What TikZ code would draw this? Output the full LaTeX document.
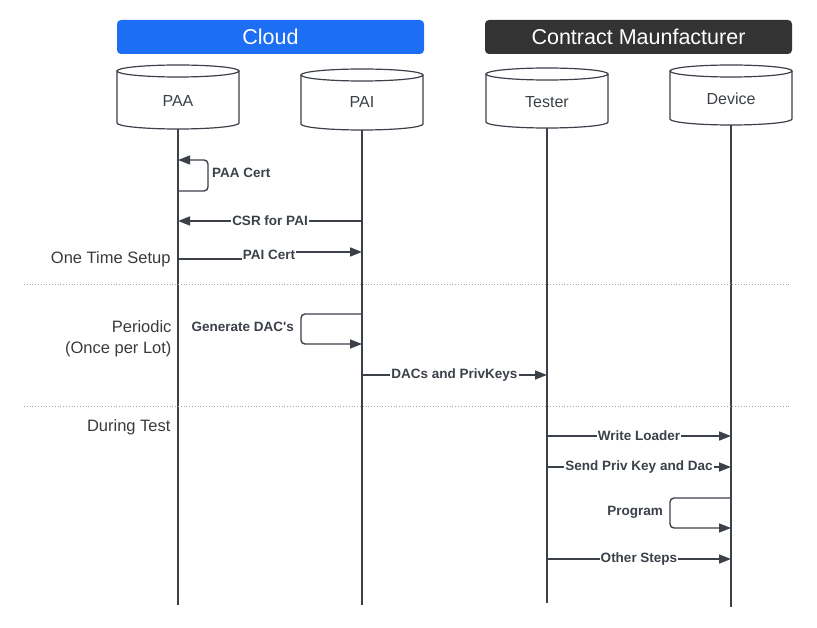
\documentclass[tikz,border=0pt]{standalone}
\usepackage{fontspec}
\setmainfont{Liberation Sans}
\usetikzlibrary{arrows.meta}
\definecolor{ln}{HTML}{3B4049}
\definecolor{cloudblue}{HTML}{1C6EF5}
\definecolor{cmdark}{HTML}{333333}
\definecolor{txt}{HTML}{3A3A3A}
\newcommand\mycyl[6]{% name, center x, top y, bottom y, label y, text
  \draw[cyl] (#2-61,#3+6) -- (#2-61,#4-6) arc[start angle=180,end angle=360,x radius=61pt,y radius=6pt] -- (#2+61,#3+6);
  \draw[cyl] (#2,#3+6) ellipse[x radius=61pt,y radius=6pt];
  \node[cyltext] (#1) at (#2,#5) {#6};
  \coordinate (#1T) at (#2,#4);
}
\begin{document}
\begin{tikzpicture}[x=1pt,y=-1pt,
  msg/.style={draw=ln, line width=1.7pt, -{Triangle[length=12pt,width=9pt]}},
  loopmsg/.style={msg, line width=1.4pt, rounded corners=4pt},
  life/.style={draw=ln, line width=1.5pt},
  lbl/.style={font=\bfseries\fontsize{13.5}{15}\selectfont, text=ln, fill=white, inner sep=1pt},
  cyl/.style={draw=ln, line width=1.2pt, fill=white},
  cyltext/.style={font=\fontsize{16}{18}\selectfont, text=ln},
  side/.style={font=\fontsize{16.5}{21}\selectfont, text=txt, align=right, anchor=east},
  banner/.style={rounded corners=4pt, minimum height=34pt, minimum width=307pt, text=white, font=\fontsize{21.5}{24}\selectfont},
  sep/.style={draw=gray!70, dotted, line width=0.8pt}]
\useasboundingbox (0,0) rectangle (817,628);

% banners
\node[banner, fill=cloudblue] (cloud) at (270.5,37) {Cloud};
\node[banner, fill=cmdark] (cm) at (638.5,37) {Contract Maunfacturer};

% cylinders
\mycyl{paa}{178}{65}{129}{101}{PAA}
\mycyl{pai}{362}{69}{130}{102}{PAI}
\mycyl{tester}{547}{68}{128}{102}{Tester}
\mycyl{device}{731}{65}{125}{99}{Device}

% lifeline ends
\coordinate (paaE) at (178,605);
\coordinate (paiE) at (362,605);
\coordinate (testerE) at (547,603);
\coordinate (deviceE) at (731,607);
\draw[life] (paaT) -- (paaE);
\draw[life] (paiT) -- (paiE);
\draw[life] (testerT) -- (testerE);
\draw[life] (deviceT) -- (deviceE);

% separators
\draw[sep] (24,284) -- (790,284);
\draw[sep] (24,406) -- (790,406);

% side labels
\node[side] (ots) at (174,259) {One Time Setup};
\node[side] (per) at (175,338.5) {Periodic\\(Once per Lot)};
\node[side] (dt) at (174,427) {During Test};

% one time setup
\draw[loopmsg] (paaT |- 0,191) -- (208,191) -- (208,160) -- (paaT |- 0,160);
\node[lbl, fill=none, anchor=west] (paacert) at (211,173) {PAA Cert};
\draw[msg] (paiT |- 0,221) -- (paaT |- 0,221) node[lbl, midway] (csr) {CSR for PAI};
\draw[msg] (paaT |- 0,259) -- (269,259) -- (269,252) -- (paiT |- 0,252);
\node[lbl] (paicert) at (269,255) {PAI Cert};

% periodic
\draw[loopmsg] (paiT |- 0,314) -- (301,314) -- (301,344) -- (paiT |- 0,344);
\node[lbl, fill=none, anchor=east] (gen) at (295,327) {Generate DAC\textquotesingle s};
\draw[msg] (paiT |- 0,375) -- (testerT |- 0,375) node[lbl, midway] (dacs) {DACs and PrivKeys};

% during test
\draw[msg] (testerT |- 0,436) -- (deviceT |- 0,436) node[lbl, midway] (wl) {Write Loader};
\draw[msg] (testerT |- 0,467) -- (deviceT |- 0,467) node[lbl, midway] (spk) {Send Priv Key and Dac};
\draw[loopmsg] (deviceT |- 0,498) -- (670,498) -- (670,528) -- (deviceT |- 0,528);
\node[lbl, fill=none, anchor=east] (prog) at (664,512) {Program};
\draw[msg] (testerT |- 0,559) -- (deviceT |- 0,559) node[lbl, midway] (os) {Other Steps};
\end{tikzpicture}
\end{document}
